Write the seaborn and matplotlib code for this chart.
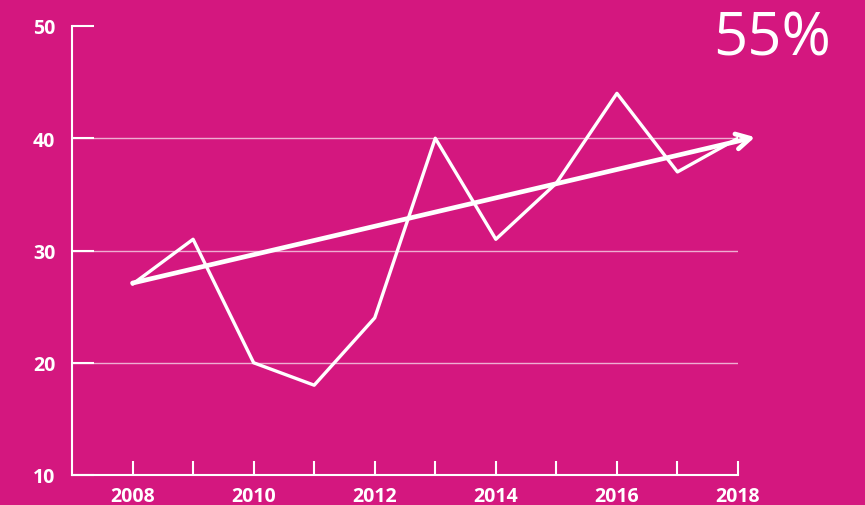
import numpy as np
import pandas as pd
import seaborn as sns
import matplotlib.pyplot as plt

# Data
years = [2008, 2009, 2010, 2011, 2012, 2013, 2014, 2015, 2016, 2017, 2018]
values = [27, 31, 20, 18, 24, 40, 31, 36, 44, 37, 40]
trend_x = [2008, 2018.28]
trend_y = [27.1, 40.1]
headline = "55%"
year_labels = ["2008", "", "2010", "", "2012", "", "2014", "", "2016", "", "2018"]
y_ticks = [10, 20, 30, 40, 50]

bg = "#D4177F"
sns.set_style("white")
plt.rcParams['font.family'] = ['Open Sans', 'DejaVu Sans']

df = pd.DataFrame({"year": years, "value": values})

fig = plt.figure(figsize=(8.65, 5.06), dpi=100, facecolor=bg)
ax = fig.add_axes([72/865, 1 - 476/506, (738 - 72)/865, (476 - 27)/506])
ax.set_facecolor(bg)

#gridlines
for y in y_ticks[1:4]:
    ax.axhline(y, color="white", alpha=0.65, lw=1, zorder=1)

sns.lineplot(data=df, x="year", y="value", color="white", lw=2.4, ax=ax, zorder=3)

#trend arrow
ax.annotate("", xy=(trend_x[1], trend_y[1]), xytext=(trend_x[0], trend_y[0]),
            arrowprops=dict(arrowstyle="->,head_length=1.0,head_width=0.55",
                            color="white", lw=3.4, shrinkA=0, shrinkB=0),
            annotation_clip=False, zorder=4)

ax.set_xlim(2007, 2018)
ax.set_ylim(10, 50)
ax.set_xticks(years)
ax.set_xticklabels(year_labels)
ax.set_yticks(y_ticks)
ax.set_xlabel("")
ax.set_ylabel("")

for s in ["top", "right"]:
    ax.spines[s].set_visible(False)
for s in ["left", "bottom"]:
    ax.spines[s].set_color("white")
    ax.spines[s].set_linewidth(1.5)

ax.tick_params(axis="x", bottom=True, direction="in", length=10, width=1.5, color="white",
               labelcolor="white", labelsize=14, pad=8)
ax.tick_params(axis="y", left=True, direction="in", length=16, width=1.5, color="white",
               labelcolor="white", labelsize=14, pad=12)
for lab in ax.get_xticklabels() + ax.get_yticklabels():
    lab.set_fontweight("bold")

fig.text(831/865, 1 - 40/506, headline, color="white", fontsize=43,
         ha="right", va="center")

plt.savefig("out.png", dpi=100, facecolor=bg)
